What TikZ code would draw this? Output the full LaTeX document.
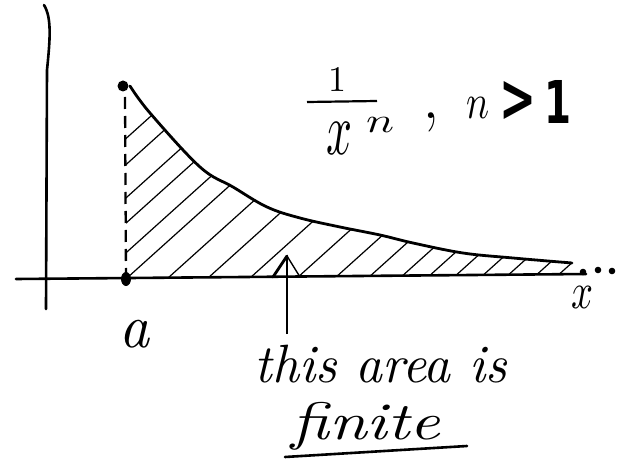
\documentclass[tikz,border=0pt]{standalone}
\usepackage{graphicx}
\usepackage{fontspec}
\newfontfamily\heavyfont{DejaVu Sans}
\usetikzlibrary{arrows.meta}
\begin{document}
\begin{tikzpicture}[x=1pt,y=-1pt,
  axis/.style={line width=2.6pt,line cap=round},
  curvestyle/.style={line width=2.8pt,line cap=round},
  hatch/.style={line width=1.2pt},
  dashline/.style={line width=2.3pt,dash pattern=on 12pt off 7pt},
  headleg/.style={line width=2.8pt,line cap=round},
  lbl/.style={inner sep=0pt,outer sep=0pt},
]
\useasboundingbox (0,0) rectangle (621,465);
% axes
\coordinate (xl) at (16,279);
\coordinate (xr) at (586,274);
\coordinate (yt) at (44,5);
\coordinate (yb) at (46,309);
\draw[axis] (xl) -- (xr);
\draw[axis] (yt) .. controls (52,18) and (50,40) .. (47,70) -- (yb);
% hatching
\begin{scope}
\clip plot[smooth,tension=0.6] coordinates {(130,86) (150,113) (200,167) (233,187) (267,207) (300,218) (340,227) (380,235) (413,243) (463,253) (513,258) (572,263)} -- (572,274) -- (126,278) -- (126,86) -- cycle;
\foreach \k in {-29,0,37,65,98,127,168,208,250,297,335,368,400,427,453,480,505,533,555}
  \draw[hatch] (\k,278) -- ++(250,-225);
\end{scope}
% curve
\draw[curvestyle] plot[smooth,tension=0.6] coordinates {(130,86) (150,113) (200,167) (233,187) (267,207) (300,218) (340,227) (380,235) (413,243) (463,253) (513,258) (572,263)};
% point a
\coordinate (atop) at (123,86);
\coordinate (abot) at (126,279);
\coordinate (dstart) at (125,97);
\draw[dashline] (dstart) -- (abot);
\fill (atop) circle[radius=5.5pt];
\fill (abot) ellipse[x radius=5pt,y radius=7pt];
% dots
\coordinate (d1) at (583,272);
\coordinate (d2) at (598,270);
\coordinate (d3) at (612,271);
\fill (d1) circle[radius=3.3pt];
\fill (d2) circle[radius=3.3pt];
\fill (d3) circle[radius=3.3pt];
% arrow
\coordinate (atail) at (287,334);
\coordinate (ahead) at (287,256);
\draw[line width=1.8pt] (atail) -- (ahead);
\draw[headleg] (ahead) ++(-14,21) -- (ahead);
\draw[line width=1.4pt,line cap=round] (ahead) -- ++(13,21);
% formula
\node[lbl] (one) at (338,79) {\resizebox*{!}{24pt}{1}};
\coordinate (barL) at (307,102);
\coordinate (barR) at (377,101);
\draw[line width=2.2pt] (barL) -- (barR);
\node[lbl] (xv) at (339,138) {\resizebox*{26pt}{32pt}{$x$}};
\node[lbl] (nsup) at (380,125) {\resizebox*{28pt}{15pt}{$n$}};
\node[lbl,anchor=base] (comma) at (431,119) {\fontsize{70}{70}\selectfont ,};
\node[lbl] (ntwo) at (478,108) {\resizebox*{23pt}{21pt}{$n$}};
\node[lbl] (gt) at (518,101) {\resizebox*{37pt}{40pt}{\heavyfont\bfseries >}};
\node[lbl] (onetwo) at (558,102) {\resizebox*{27pt}{43pt}{\heavyfont\bfseries 1}};
% labels
\node[lbl] (xlab) at (582,297) {\resizebox*{22pt}{22pt}{$x$}};
\node[lbl] (alab) at (135,334) {\resizebox*{30pt}{28pt}{\itshape a}};
\node[lbl] (area) at (381,364) {\resizebox*{252pt}{38pt}{\itshape this area is}};
\node[lbl] (fin) at (366,426) {\resizebox*{148pt}{48pt}{\itshape finite}};
\coordinate (ulL) at (285,457);
\coordinate (ulR) at (467,446);
\draw[line width=2.6pt,line cap=round] (ulL) -- (ulR);
\end{tikzpicture}
\end{document}
